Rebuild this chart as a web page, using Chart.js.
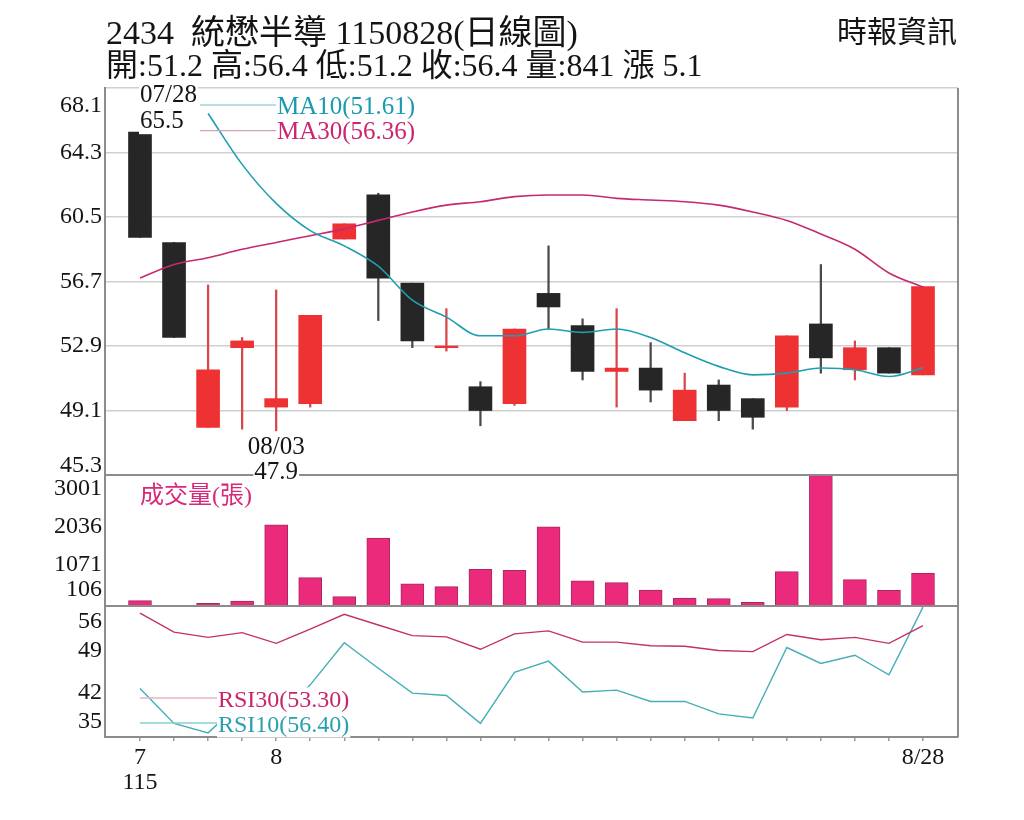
<!DOCTYPE html>
<html><head><meta charset="utf-8">
<script src="https://cdn.jsdelivr.net/npm/chart.js@4.4.1/dist/chart.umd.min.js"></script>
<style>
html,body{margin:0;padding:0;background:#fff;}
#wrap{position:relative;width:1024px;height:820px;overflow:hidden;background:#fff;}
canvas{position:absolute;left:0;top:0;}
.t{position:absolute;white-space:pre;color:#141414;font-family:'Liberation Serif','Noto Sans CJK TC',serif;}
</style></head><body>
<div id="wrap">
<canvas id="c" width="1024" height="820"></canvas>
<div class="t" style="left:106px;top:16px;font-size:34px;line-height:34px">2434  統懋半導 1150828(日線圖)</div>
<div class="t" style="left:106px;top:49px;font-size:32px;line-height:32px">開:51.2 高:56.4 低:51.2 收:56.4 量:841 漲 5.1</div>
<div class="t" style="right:67px;top:17px;font-size:30px;line-height:30px">時報資訊</div>
</div>
<script>
// ---- data ----
const days = ['07/28','07/29','07/30','07/31','08/03','08/04','08/05','08/06','08/07','08/10','08/11','08/12','08/13','08/14','08/17','08/18','08/19','08/20','08/21','08/24','08/25','08/26','08/27','08/28'];
const openP  = [65.5, 59.0, 48.1, 52.8, 49.3, 49.5, 59.2, 61.8, 56.6, 52.8, 50.5, 49.5, 56.0, 54.1, 51.4, 51.6, 48.5, 50.6, 49.8, 49.3, 54.2, 51.5, 52.8, 51.2];
const highP  = [65.5, 59.0, 56.5, 53.4, 56.2, 54.7, 60.1, 61.9, 56.6, 55.1, 50.8, 53.9, 58.8, 54.5, 55.1, 53.1, 51.3, 50.9, 49.8, 53.5, 57.7, 53.2, 52.8, 56.4];
const lowP   = [59.3, 53.4, 48.1, 48.0, 47.9, 49.3, 59.2, 54.4, 52.8, 52.6, 48.2, 49.4, 53.9, 50.9, 49.3, 49.6, 48.5, 48.5, 48.0, 49.1, 51.3, 50.9, 51.3, 51.2];
const closeP = [59.3, 53.4, 51.5, 53.2, 49.8, 54.7, 60.1, 56.9, 53.2, 52.9, 49.1, 53.9, 55.2, 51.4, 51.6, 50.3, 50.3, 49.1, 48.7, 53.5, 52.2, 52.8, 51.3, 56.4];
const volume = [137, 12, 69, 129, 2082, 728, 240, 1740, 566, 497, 943, 917, 2031, 643, 600, 411, 206, 189, 94, 883, 3360, 677, 403, 841];
const ma10 = [null, null, 66.6, 63.6, 61.3, 59.7, 58.8, 57.6, 55.6, 54.6, 53.5, 53.5, 53.9, 53.7, 53.9, 53.4, 52.5, 51.7, 51.2, 51.3, 51.6, 51.5, 51.1, 51.61];
const ma30 = [56.9, 57.7, 58.1, 58.6, 59.0, 59.4, 59.8, 60.3, 60.8, 61.2, 61.4, 61.7, 61.8, 61.8, 61.6, 61.5, 61.4, 61.2, 60.8, 60.3, 59.5, 58.6, 57.2, 56.36];
const rsi30 = [55.4, 52.2, 51.3, 52.1, 50.3, 52.7, 55.2, 53.4, 51.6, 51.4, 49.3, 51.9, 52.4, 50.5, 50.5, 49.9, 49.8, 49.1, 48.9, 51.8, 50.9, 51.3, 50.3, 53.30];
const rsi10 = [42.7, 36.8, 35.2, 40.5, 37.5, 43.3, 50.4, 46.1, 41.9, 41.5, 36.8, 45.4, 47.3, 42.1, 42.4, 40.5, 40.5, 38.4, 37.7, 49.6, 46.9, 48.3, 45.0, 56.40];
const priceTicks = [45.3, 49.1, 52.9, 56.7, 60.5, 64.3, 68.1];
const volTicks = [106, 1071, 2036, 3001];
const rsiTicks = [35, 42, 49, 56];
const xTickLabels = {'07/28': ['7', '115'], '08/03': '8', '08/28': '8/28'};
const maLegend = ['MA10(51.61)', 'MA30(56.36)'];
const rsiLegend = ['RSI30(53.30)', 'RSI10(56.40)'];
const volTitle = '成交量(張)';
const highNote = {day: '07/28', value: 65.5};
const lowNote = {day: '08/03', value: 47.9};

// ---- style ----
const FONT = "'Liberation Serif','Noto Sans CJK TC',serif";
const RED = '#ee3234', BLACK = '#262626', RED_WICK = '#d8464a', BLACK_WICK = '#4a4a4a';
const AXIS = '#8c8c8c';
const up = openP.map((o, i) => closeP[i] >= o);
const xy = arr => arr.map((v, i) => ({x: i, y: v}));

function txt(ctx, s, x, y, opt) {
  const size = opt.size || 24;
  ctx.font = size + 'px ' + FONT;
  ctx.textBaseline = 'alphabetic';
  ctx.textAlign = 'left';
  const w = ctx.measureText(s).width;
  let x0 = x;
  if (opt.align === 'center') x0 = x - w / 2;
  if (opt.bg) { ctx.fillStyle = '#fff'; ctx.fillRect(x0 - 1, y - size * 0.82, w + 2, size * 1.05); }
  ctx.fillStyle = opt.color || '#141414';
  ctx.fillText(s, x0, y);
}

const decor = {
  id: 'decor',
  afterDatasetsDraw(chart) {
    const {ctx, chartArea: a, scales} = chart;
    const {x, yP, yV, yR} = scales;
    ctx.save();
    ctx.strokeStyle = AXIS; ctx.lineWidth = 2;
    ctx.beginPath();
    [yV.top, yR.top].forEach(y => { ctx.moveTo(a.left, y); ctx.lineTo(a.right, y); });
    ctx.moveTo(a.right, a.top); ctx.lineTo(a.right, a.bottom);
    ctx.stroke();

    // MA legend
    const lx0 = a.left + 95, lx1 = a.left + 172;
    const maCols = [['#a6d2d7', '#1a9aae'], ['#cfa3b6', '#cc2470']];
    [17, 42.7].forEach((dy, k) => {
      ctx.strokeStyle = maCols[k][0]; ctx.lineWidth = 1.3;
      ctx.beginPath(); ctx.moveTo(lx0, a.top + dy); ctx.lineTo(lx1, a.top + dy); ctx.stroke();
      txt(ctx, maLegend[k], lx1, a.top + dy + 8.5, {size: 25, color: maCols[k][1], bg: true});
    });

    // high / low notes
    const hx = x.getPixelForValue(days.indexOf(highNote.day));
    const hy = yP.getPixelForValue(highNote.value);
    txt(ctx, highNote.day, hx, hy - 30.5, {size: 25, bg: true});
    txt(ctx, highNote.value.toFixed(1), hx, hy - 3.7, {size: 25, bg: true});
    const lx = x.getPixelForValue(days.indexOf(lowNote.day));
    const ly = yP.getPixelForValue(lowNote.value);
    txt(ctx, lowNote.day, lx, ly + 23, {size: 25, align: 'center', bg: true});
    txt(ctx, lowNote.value.toFixed(1), lx, ly + 48, {size: 25, align: 'center', bg: true});

    // volume title
    txt(ctx, volTitle, x.getPixelForValue(0), yV.top + 28, {size: 24, color: '#d8287a'});

    // RSI legend
    const rx0 = x.getPixelForValue(0), rx1 = a.left + 113;
    const rCols = [['#e3b5c9', '#c8246c'], ['#86cfd1', '#2a9fae']];
    [92, 117].forEach((dy, k) => {
      ctx.strokeStyle = rCols[k][0]; ctx.lineWidth = 1.3;
      ctx.beginPath(); ctx.moveTo(rx0, yR.top + dy); ctx.lineTo(rx1, yR.top + dy); ctx.stroke();
    });
    [101, 126].forEach((dy, k) => {
      txt(ctx, rsiLegend[k], rx1, yR.top + dy, {size: 24, color: rCols[k][1], bg: true});
    });
    ctx.restore();
  }
};

const tickFont = {family: FONT, size: 24, lineHeight: 1};
const yBase = (ticksArr) => ({
  position: 'left', stack: 'panels',
  afterBuildTicks: s => { s.ticks = ticksArr.map(v => ({value: v})); },
  afterFit: s => { s.width = 105; },
  border: {color: AXIS, width: 2},
  ticks: {padding: 3, color: '#141414', font: tickFont, autoSkip: false}
});

const yR = yBase(rsiTicks);
Object.assign(yR, {type: 'linear', min: 34.5, max: 56.6, stackWeight: 131,
  grid: {display: false, drawTicks: false, tickLength: 0}});
yR.ticks.callback = v => v === rsiTicks[rsiTicks.length - 1] ? ['', String(v)] : (v === rsiTicks[0] ? [String(v), ''] : String(v));

const yV = yBase(volTicks);
Object.assign(yV, {type: 'linear', min: 0, max: 3360, stackWeight: 131,
  grid: {display: false, drawTicks: false, tickLength: 0}});
yV.ticks.callback = v => v === volTicks[0] ? [String(v), ''] : String(v);

const yP = yBase(priceTicks);
Object.assign(yP, {type: 'linear', min: 45.3, max: 68.1, stackWeight: 387,
  grid: {color: '#d0d0d0', lineWidth: 1.5, drawTicks: false, tickLength: 0}});
yP.ticks.callback = v => {
  const s = v.toFixed(1);
  if (v === priceTicks[priceTicks.length - 1]) return ['', '', s];
  if (v === priceTicks[0]) return [s, ''];
  return s;
};
yP.ticks.font = {family: FONT, size: 24, lineHeight: 0.75};

new Chart(document.getElementById('c'), {
  type: 'bar',
  data: {
    datasets: [
      {type: 'line', label: 'MA10', data: xy(ma10), yAxisID: 'yP', borderColor: '#1e9fb0', borderWidth: 1.6, pointRadius: 0, cubicInterpolationMode: 'monotone', order: 0},
      {type: 'line', label: 'MA30', data: xy(ma30), yAxisID: 'yP', borderColor: '#c52a6f', borderWidth: 1.6, pointRadius: 0, cubicInterpolationMode: 'monotone', order: 0},
      {type: 'line', label: 'RSI30', data: xy(rsi30), yAxisID: 'yR', borderColor: '#c3306c', borderWidth: 1.4, pointRadius: 0, order: 0},
      {type: 'line', label: 'RSI10', data: xy(rsi10), yAxisID: 'yR', borderColor: '#45aeb4', borderWidth: 1.4, pointRadius: 0, order: 0},
      {type: 'bar', label: 'body', data: openP.map((o, i) => ({x: i, y: [o, closeP[i]]})), yAxisID: 'yP',
        backgroundColor: up.map(u => u ? RED : BLACK), barThickness: 23, grouped: false, borderWidth: 0, order: 1},
      {type: 'bar', label: 'wick', data: lowP.map((l, i) => ({x: i, y: [l, highP[i]]})), yAxisID: 'yP',
        backgroundColor: up.map(u => u ? RED_WICK : BLACK_WICK), barThickness: 1.6, grouped: false, borderWidth: 0, order: 2},
      {type: 'bar', label: 'vol', data: xy(volume), yAxisID: 'yV', backgroundColor: '#ec2a7c',
        borderColor: '#a8285f', borderWidth: 1, barThickness: 23, grouped: false, order: 1}
    ]
  },
  options: {
    responsive: false, animation: false,
    layout: {padding: {left: 0, top: 88, right: 66, bottom: 0}},
    plugins: {legend: {display: false}, tooltip: {enabled: false}},
    scales: {
      x: {type: 'linear', min: -1.028, max: 24.028, position: 'bottom', offset: false,
        afterBuildTicks: s => { s.ticks = days.map((d, i) => ({value: i})); },
        afterFit: s => { s.height = 83; },
        grid: {drawOnChartArea: false, drawTicks: true, tickLength: 4, color: '#9a9a9a', lineWidth: 1.5, offset: false},
        border: {color: AXIS, width: 2},
        ticks: {autoSkip: false, maxRotation: 0, padding: 4, color: '#141414', font: {family: FONT, size: 24, lineHeight: 1.05},
          callback: (v, i) => xTickLabels[days[i]] ?? ''}},
      yR, yV, yP
    }
  },
  plugins: [decor]
});
</script>
</body></html>
